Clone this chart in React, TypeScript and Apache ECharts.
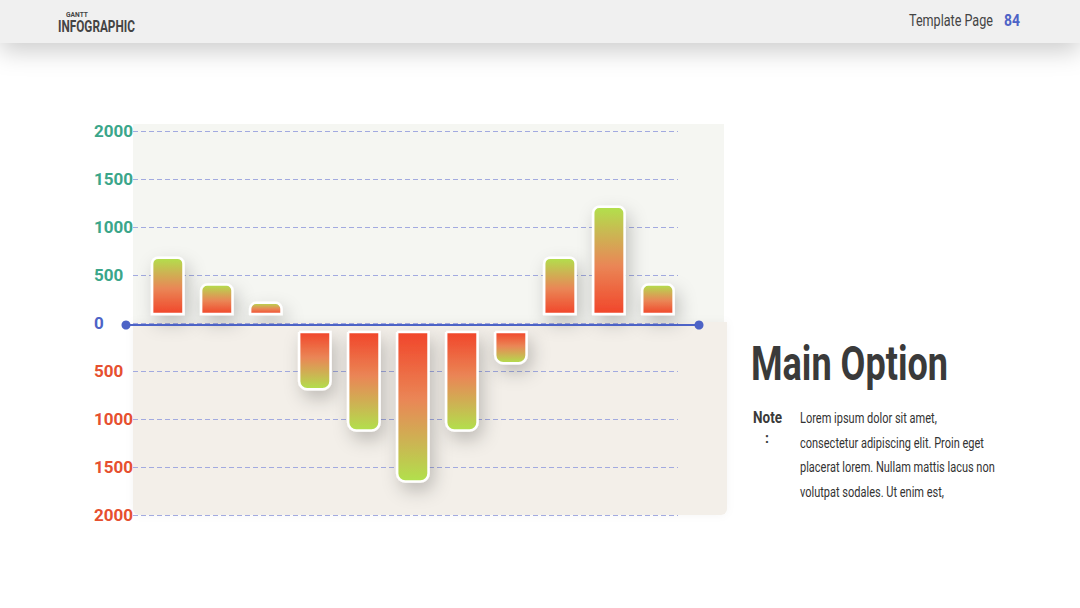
import React, { useEffect, useRef } from "react";
import * as echarts from "echarts";

const categories = ["1", "2", "3", "4", "5", "6", "7", "8", "9", "10", "11"];
const values = [680, 400, 210, -690, -1120, -1650, -1120, -420, 680, 1210, 400];
const yTicks = [-2000, -1500, -1000, -500, 0, 500, 1000, 1500, 2000];
const titleText = "Main Option";
const noteLines = [
  "Lorem ipsum dolor sit amet,",
  "consectetur adipiscing elit. Proin eget",
  "placerat lorem. Nullam mattis lacus non",
  "volutpat sodales. Ut enim est,",
];

const FONT = "Roboto, 'Noto Sans', sans-serif";

function measure(text: string, font: string): number {
  const ctx = document.createElement("canvas").getContext("2d")!;
  ctx.font = font;
  return ctx.measureText(text).width || 1;
}

function fitText(text: string, x: number, y: number, font: string, targetW: number, fill: string, extra: any = {}) {
  const s = targetW / measure(text, font);
  return {
    type: "text",
    x,
    y,
    scaleX: s,
    ...extra,
    style: { text, font, fill, verticalAlign: "middle" },
  };
}

export default function App() {
  const ref = useRef<HTMLDivElement>(null);
  useEffect(() => {
    const chart = echarts.init(ref.current!, null, { renderer: "svg" });
    const data = values.map((v, i) => [i, v, categories[i]]);
    const noteFont = `14px ${FONT}`;
    const noteScale = 195 / measure(noteLines[2], noteFont);
    chart.setOption({
      animation: false,
      backgroundColor: "#ffffff",
      grid: { left: 133, width: 545, top: 131, height: 384 },
      xAxis: {
        type: "value",
        min: -0.71,
        max: 10.41,
        show: false,
      },
      yAxis: {
        type: "value",
        min: yTicks[0],
        max: yTicks[yTicks.length - 1],
        interval: 500,
        axisLine: { show: false },
        axisTick: { show: false },
        axisLabel: {
          align: "left",
          margin: 39,
          fontFamily: FONT,
          fontSize: 17,
          fontWeight: "bold",
          formatter: (v: number) => String(Math.abs(v)),
          color: (v: any) => {
            const n = Number(v);
            return n > 0 ? "#3ba68a" : n < 0 ? "#e6502f" : "#4d63c6";
          },
        },
        splitLine: {
          show: true,
          lineStyle: { type: [5, 3], color: "#a2aae0", width: 1 },
        },
      },
      graphic: [
        { type: "rect", z: -10, shape: { x: 133, y: 124, width: 591, height: 200 }, style: { fill: "#f5f6f2" } },
        { type: "rect", z: -10, shape: { x: 133, y: 322, width: 594, height: 193, r: [0, 0, 6, 6] }, style: { fill: "#f3efe9", shadowBlur: 8, shadowColor: "rgba(0,0,0,0.04)" } },
        { type: "line", z: 50, shape: { x1: 126, y1: 325, x2: 699, y2: 325 }, style: { stroke: "#4d63c6", lineWidth: 2 } },
        { type: "circle", z: 50, shape: { cx: 126, cy: 325, r: 4.5 }, style: { fill: "#4d63c6" } },
        { type: "circle", z: 50, shape: { cx: 699, cy: 325, r: 4.5 }, style: { fill: "#4d63c6" } },
        // header
        { type: "rect", z: 60, shape: { x: 0, y: 0, width: 1080, height: 43 }, style: { fill: "#f0f0f0", shadowBlur: 24, shadowColor: "rgba(0,0,0,0.2)", shadowOffsetY: 8 } },
        fitText("GANTT", 66, 14, `bold 8px ${FONT}`, 22, "#444", { z: 61 }),
        fitText("INFOGRAPHIC", 58, 26, `bold 16px ${FONT}`, 77, "#444", { z: 61 }),
        fitText("Template Page", 909, 21, `16px ${FONT}`, 84, "#444", { z: 61 }),
        fitText("84", 1004, 21, `bold 16px ${FONT}`, 16, "#4d63c6", { z: 61 }),
        // right panel
        fitText(titleText, 751, 363, `bold 49px ${FONT}`, 197, "#3a3a3a"),
        fitText("Note", 753, 418, `bold 16px ${FONT}`, 29, "#3a3a3a"),
        { type: "text", x: 767, y: 438, style: { text: ":", font: `bold 14px ${FONT}`, fill: "#3a3a3a", align: "center", verticalAlign: "middle" } },
        ...noteLines.map((t, i) => ({
          type: "text",
          x: 800,
          y: 418 + i * 24.5,
          scaleX: noteScale,
          style: { text: t, font: noteFont, fill: "#333", verticalAlign: "middle" },
        })),
      ],
      series: [
        {
          type: "custom",
          data,
          encode: { x: 0, y: 1 },
          z: 10,
          renderItem: (params: any, api: any) => {
            const i = api.value(0);
            const v = api.value(1);
            const base = api.coord([i, 0]);
            const tip = api.coord([i, v]);
            const w = api.size([1, 0])[0] * 0.64;
            const gap = 9;
            const pos = v >= 0;
            const y0 = pos ? base[1] - gap : base[1] + gap;
            const top = Math.min(y0, tip[1]);
            const h = Math.abs(tip[1] - y0);
            const stops = [
              { offset: 0, color: "#f1452a" },
              { offset: 0.45, color: "#ea8656" },
              { offset: 0.75, color: "#cbb652" },
              { offset: 1, color: "#b1e14d" },
            ];
            return {
              type: "rect",
              shape: { x: base[0] - w / 2, y: top, width: w, height: h, r: pos ? [6, 6, 0, 0] : [0, 0, 8, 8] },
              style: {
                fill: new echarts.graphic.LinearGradient(0, pos ? 1 : 0, 0, pos ? 0 : 1, stops),
                stroke: "#ffffff",
                lineWidth: 2.5,
                shadowBlur: 18,
                shadowColor: "rgba(0,0,0,0.22)",
                shadowOffsetX: 4,
                shadowOffsetY: 8,
              },
            };
          },
        },
      ],
    });
    return () => chart.dispose();
  }, []);
  return (
    <div
      ref={ref}
      style={{ position: "absolute", left: 0, top: 0, width: 1080, height: 608 }}
    />
  );
}
